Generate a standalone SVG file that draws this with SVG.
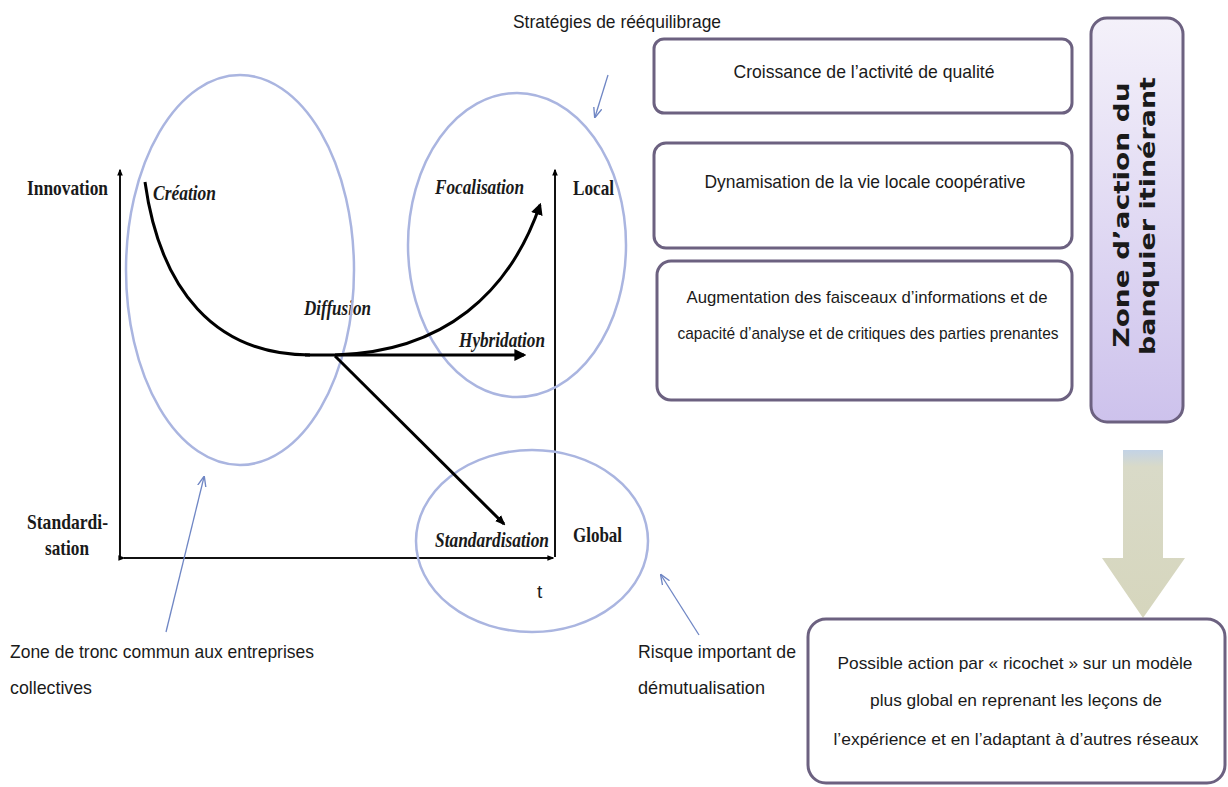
<svg xmlns="http://www.w3.org/2000/svg" width="1228" height="787" viewBox="0 0 1228 787">
<defs>
<style>
.ser{font-family:"Liberation Serif",serif;font-weight:bold;font-size:21px;fill:#1a1a1a}
.it{font-family:"Liberation Serif",serif;font-weight:bold;font-style:italic;font-size:21px;fill:#1a1a1a}
.san{font-family:"Liberation Sans",Arial,sans-serif;font-size:19px;fill:#1a1a1a}
.sm{font-size:17px}
.box{fill:#ffffff;stroke:#6c6180;stroke-width:3}
.ell{fill:none;stroke:#aab5e0;stroke-width:2.5}
.thin{fill:none;stroke:#6f86c4;stroke-width:1.3}
.ax{fill:none;stroke:#111;stroke-width:2}
.crv{fill:none;stroke:#000;stroke-width:3}
.vt{font-family:"DejaVu Sans",sans-serif;font-weight:bold;font-size:21px;fill:#1a1a1a}
</style>
<marker id="ah" viewBox="0 0 10 10" refX="8" refY="5" markerWidth="4" markerHeight="4" orient="auto"><path d="M0,0 L10,5 L0,10 z" fill="#000"/></marker>
<marker id="ahb" viewBox="0 0 10 10" refX="8" refY="5" markerWidth="3.5" markerHeight="3.5" orient="auto"><path d="M0,1 L10,5 L0,9 z" fill="#000"/></marker>
<marker id="aht" viewBox="0 0 10 10" refX="9" refY="5" markerWidth="8" markerHeight="8" orient="auto"><path d="M0,1 L10,5 L0,9" fill="none" stroke="#6f86c4" stroke-width="1.3"/></marker>
<linearGradient id="pg" x1="0" y1="0" x2="0" y2="1"><stop offset="0" stop-color="#f4f1fa"/><stop offset="1" stop-color="#cdc2ec"/></linearGradient>
<linearGradient id="ag" x1="0" y1="0" x2="0" y2="1"><stop offset="0" stop-color="#c3d3e6"/><stop offset="0.1" stop-color="#d9dac8"/><stop offset="1" stop-color="#d6d6bd"/></linearGradient>
</defs>
<rect width="1228" height="787" fill="#ffffff"/>

<g id="chart">
<line class="ax" x1="120" y1="557" x2="120" y2="170" marker-end="url(#ahb)"/>
<line class="ax" x1="555" y1="557" x2="555" y2="170" marker-end="url(#ahb)"/>
<line class="ax" x1="124" y1="558" x2="553" y2="558" marker-end="url(#ahb)" marker-start="url(#ahb)"/>
<text class="ser" x="27" y="195" textLength="81" lengthAdjust="spacingAndGlyphs">Innovation</text>
<text class="ser" x="27" y="529" textLength="81" lengthAdjust="spacingAndGlyphs">Standardi-</text>
<text class="ser" x="45" y="555" textLength="44" lengthAdjust="spacingAndGlyphs">sation</text>
<text class="ser" x="573" y="195" textLength="41" lengthAdjust="spacingAndGlyphs">Local</text>
<text class="ser" x="573" y="542" textLength="49" lengthAdjust="spacingAndGlyphs">Global</text>
<text class="san" x="537" y="598" font-size="17">t</text>
<text class="it" x="153" y="200" textLength="63" lengthAdjust="spacingAndGlyphs">Création</text>
<text class="it" x="435" y="194" textLength="89" lengthAdjust="spacingAndGlyphs">Focalisation</text>
<text class="it" x="304" y="315" textLength="67" lengthAdjust="spacingAndGlyphs">Diffusion</text>
<text class="it" x="459" y="347" textLength="86" lengthAdjust="spacingAndGlyphs">Hybridation</text>
<text class="it" x="435" y="547" textLength="114" lengthAdjust="spacingAndGlyphs">Standardisation</text>
</g>

<g id="ellipses">
<ellipse class="ell" cx="240" cy="270" rx="114" ry="195"/>
<ellipse class="ell" cx="517" cy="245" rx="109" ry="152"/>
<ellipse class="ell" cx="532" cy="541" rx="116" ry="91"/>
</g>

<g id="connectors">
<path class="crv" d="M145,182 C160,290 215,355 310,355"/>
<line class="crv" x1="305" y1="355" x2="524" y2="355" marker-end="url(#ah)"/>
<path class="crv" stroke-width="4" d="M335,355 C445,352 510,292 540,205" marker-end="url(#ah)"/>
<line class="crv" x1="335" y1="356" x2="504" y2="524" marker-end="url(#ahb)"/>
<line class="thin" x1="608" y1="75" x2="595" y2="117" marker-end="url(#aht)"/>
<line class="thin" x1="166" y1="632" x2="204" y2="477" marker-end="url(#aht)"/>
<line class="thin" x1="699" y1="635" x2="661" y2="575" marker-end="url(#aht)"/>
</g>

<g id="label-strategies">
<text class="san" x="513" y="28" textLength="208" lengthAdjust="spacingAndGlyphs">Stratégies de rééquilibrage</text>
</g>
<g id="label-tronc">
<text class="san" x="10" y="658" textLength="304" lengthAdjust="spacingAndGlyphs">Zone de tronc commun aux entreprises</text>
<text class="san" x="10" y="694" textLength="82" lengthAdjust="spacingAndGlyphs">collectives</text>
</g>
<g id="label-risque">
<text class="san" x="638" y="658" textLength="158" lengthAdjust="spacingAndGlyphs">Risque important de</text>
<text class="san" x="638" y="694" textLength="127" lengthAdjust="spacingAndGlyphs">démutualisation</text>
</g>

<g id="box-croissance">
<rect class="box" x="654" y="39" width="418" height="74" rx="10"/>
<text class="san" x="864" y="78" text-anchor="middle" textLength="261" lengthAdjust="spacingAndGlyphs">Croissance de l’activité de qualité</text>
</g>
<g id="box-dynamisation">
<rect class="box" x="654" y="143" width="418" height="105" rx="12"/>
<text class="san" x="865" y="188" text-anchor="middle" textLength="321" lengthAdjust="spacingAndGlyphs">Dynamisation de la vie locale coopérative</text>
</g>
<g id="box-augmentation">
<rect class="box" x="657" y="261" width="415" height="139" rx="14"/>
<text class="san sm" x="867" y="303" text-anchor="middle" textLength="361" lengthAdjust="spacingAndGlyphs">Augmentation des faisceaux d’informations et de</text>
<text class="san sm" x="868" y="339" text-anchor="middle" textLength="381" lengthAdjust="spacingAndGlyphs">capacité d’analyse et de critiques des parties prenantes</text>
</g>

<g id="box-zone">
<rect x="1091" y="18" width="92" height="404" rx="16" fill="url(#pg)" stroke="#6c6180" stroke-width="3"/>
<text class="vt" transform="translate(1129,215) rotate(-90)" text-anchor="middle" textLength="265" lengthAdjust="spacingAndGlyphs">Zone d’action du</text>
<text class="vt" transform="translate(1155,216) rotate(-90)" text-anchor="middle" textLength="278" lengthAdjust="spacingAndGlyphs">banquier itinérant</text>
</g>

<g id="down-arrow">
<path d="M1123,450 L1163,450 L1163,558 L1185,558 L1143,618 L1102,558 L1123,558 Z" fill="url(#ag)"/>
</g>

<g id="box-ricochet">
<rect class="box" x="808" y="619" width="417" height="164" rx="18"/>
<text class="san sm" x="1015" y="669" text-anchor="middle" textLength="355" lengthAdjust="spacingAndGlyphs">Possible action par « ricochet » sur un modèle</text>
<text class="san sm" x="1016" y="706" text-anchor="middle" textLength="292" lengthAdjust="spacingAndGlyphs">plus global en reprenant les leçons de</text>
<text class="san sm" x="1016" y="745" text-anchor="middle" textLength="365" lengthAdjust="spacingAndGlyphs">l’expérience et en l’adaptant à d’autres réseaux</text>
</g>
</svg>
